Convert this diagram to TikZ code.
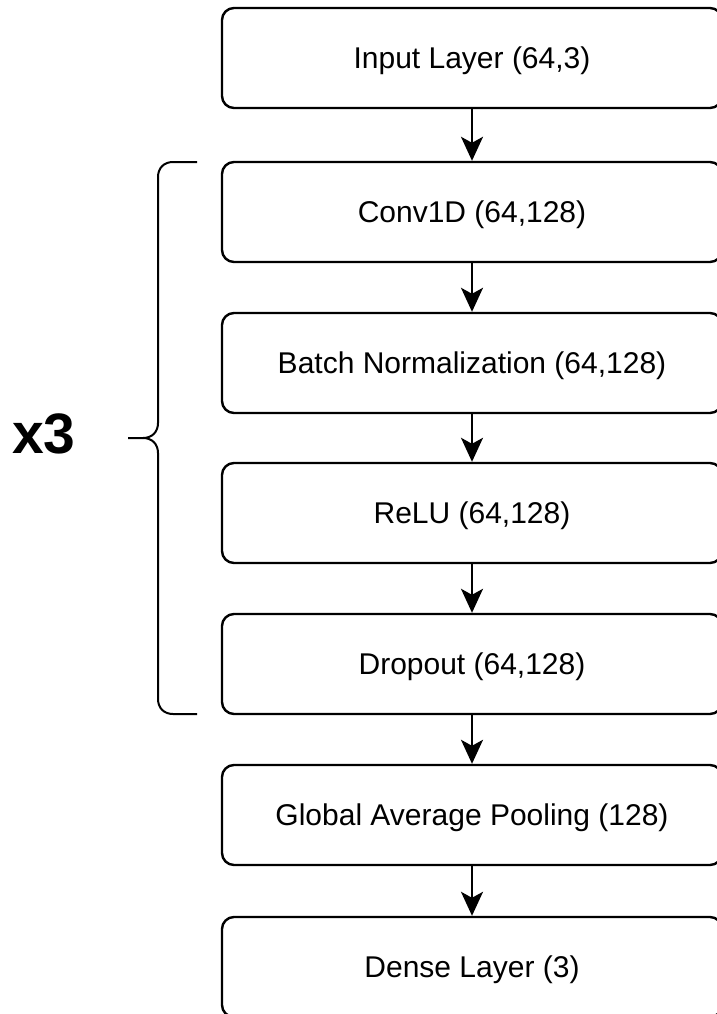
\documentclass[tikz,border=0pt]{standalone}
\usepackage{fontspec}
\setmainfont{Liberation Sans}
\usetikzlibrary{arrows.meta}
\begin{document}
\begin{tikzpicture}[x=1pt,y=-1pt,
  layerbox/.style={draw, line width=2.4pt, rounded corners=12pt,
    minimum width=500pt, minimum height=100pt, inner sep=0pt,
    text height=21pt, text depth=0pt,
    font=\fontsize{30}{36}\selectfont},
  flow/.style={line width=2.2pt, -{Stealth[length=24pt,width=22pt,inset=6pt]}},
  bracket/.style={line width=2pt}]
\useasboundingbox (0,0) rectangle (716,1014);

% network layers
\node[layerbox] (inp)  at (472,58)  {Input Layer (64,3)};
\node[layerbox] (conv) at (472,212) {Conv1D (64,128)};
\node[layerbox] (bn)   at (472,363) {Batch Normalization (64,128)};
\node[layerbox] (relu) at (472,513) {ReLU (64,128)};
\node[layerbox] (drop) at (472,664) {Dropout (64,128)};
\node[layerbox] (gap)  at (472,815) {Global Average Pooling (128)};
\node[layerbox] (dense) at (472,967) {Dense Layer (3)};

% data flow
\draw[flow] (inp.south)  -- (conv.north);
\draw[flow] (conv.south) -- (bn.north);
\draw[flow] (bn.south)   -- (relu.north);
\draw[flow] (relu.south) -- (drop.north);
\draw[flow] (drop.south) -- (gap.north);
\draw[flow] (gap.south)  -- (dense.north);

% repeated block bracket
\draw[bracket] (197,162) -- (173,162) .. controls (164,162) and (158,168) .. (158,177)
  -- (158,423) .. controls (158,432) and (152,438) .. (143,438) -- (128,438);
\draw[bracket] (143,438) .. controls (152,438) and (158,444) .. (158,453)
  -- (158,699) .. controls (158,708) and (164,714) .. (173,714) -- (197,714);
\node[font=\fontsize{57}{60}\selectfont\bfseries] (rep) at (44,434) {x3};
\end{tikzpicture}
\end{document}
